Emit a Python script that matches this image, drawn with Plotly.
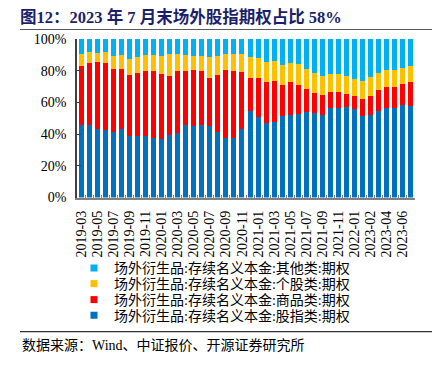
import plotly.graph_objects as go

months = ["2019-03","2019-04","2019-05","2019-06","2019-07","2019-08","2019-09","2019-10","2019-11","2019-12",
          "2020-01","2020-02","2020-03","2020-04","2020-05","2020-06","2020-07","2020-08","2020-09","2020-10",
          "2020-11","2020-12","2021-01","2021-02","2021-03","2021-04","2021-05","2021-06","2021-07","2021-08",
          "2021-09","2021-10","2021-11","2021-12","2022-01","2023-01","2023-02","2023-03","2023-04","2023-05",
          "2023-06","2023-07"]

index_opt = [45.7,45.7,43.4,42.8,41.5,43.2,38.6,38.6,38.6,37.7,37.1,39.6,40.9,45.7,45.3,45.7,45.1,41.3,37.7,37.7,
             43.0,54.6,51.0,46.8,47.4,51.4,52.1,52.9,54.1,53.5,52.2,56.5,56.7,57.3,56.0,51.6,52.1,54.8,56.7,56.7,
             58.4,57.7]
commodity_opt = [37.5,39.2,42.1,42.1,39.4,37.9,38.5,39.9,41.2,41.9,41.0,37.3,38.9,34.3,35.1,33.9,30.3,36.0,42.7,42.1,
                 36.2,21.0,24.4,25.9,26.3,19.6,20.8,18.1,14.6,12.4,12.5,10.1,9.9,8.0,8.0,10.5,11.9,13.0,12.8,13.2,
                 13.4,15.0]
stock_opt = [7.3,6.9,5.9,6.7,8.2,8.6,10.1,10.3,9.9,10.3,11.4,13.6,10.7,9.7,8.9,9.7,13.1,12.0,10.3,10.9,
             11.1,13.3,12.4,13.0,12.4,12.8,12.1,13.0,12.4,12.6,12.0,11.3,11.3,11.4,10.6,11.4,11.8,10.9,11.1,10.7,
             10.1,10.5]
other_opt = [9.5,8.2,8.6,8.4,10.9,10.3,12.8,11.2,10.3,10.1,10.5,9.5,9.5,10.3,10.7,10.7,11.5,10.7,9.3,9.3,
             9.7,11.1,12.2,14.3,13.9,16.2,15.0,16.0,18.9,21.5,23.3,22.1,22.1,23.3,25.4,26.5,24.2,21.3,19.4,19.4,
             18.1,16.8]

series_names = ["场外衍生品:存续名义本金:股指类:期权",
                "场外衍生品:存续名义本金:商品类:期权",
                "场外衍生品:存续名义本金:个股类:期权",
                "场外衍生品:存续名义本金:其他类:期权"]
series_values = [index_opt, commodity_opt, stock_opt, other_opt]
colors = ["#0070C0", "#FF0000", "#FFC000", "#00B0F0"]

tick_text = [m if i % 2 == 0 else "" for i, m in enumerate(months)]
y_ticks = [0, 20, 40, 60, 80, 100]
y_ticktext = [f"{v}%" for v in y_ticks]

# The page has an 8px body margin: the figure starts at screen (8, 8).
# Margins are zero, so paper coordinates cover the whole figure.
OFF = 8
SW, SH = 446, 365
W, H = SW - OFF, SH - OFF

def px(sx):
    return (sx - OFF) / W

def py(sy):
    return 1 - (sy - OFF) / H

PL, PR, PT, PB = 77, 415, 39, 197.5   # plot area in screen pixels

SERIF = "Liberation Serif, Noto Sans CJK SC"
CJK = "Liberation Serif, Noto Sans CJK SC"

fig = go.Figure()
for name, vals, col in zip(series_names, series_values, colors):
    fig.add_trace(go.Bar(x=months, y=vals, name=name, marker=dict(color=col, line=dict(width=0)),
                         showlegend=False))

# legend rows (screen y) for index, commodity, stock, other
legend_ids = ["legend", "legend2", "legend3", "legend4"]
legend_rows = [315.7, 300.0, 284.0, 268.3]
layout_legends = {}
for name, col, lid, yrow in zip(series_names, colors, legend_ids, legend_rows):
    fig.add_trace(go.Scatter(x=[None], y=[None], mode="markers", name=name,
                             marker=dict(symbol="square", size=7, color=col),
                             legend=lid, showlegend=True))
    layout_legends[lid] = dict(x=px(74), y=py(yrow), xanchor="left", yanchor="middle",
                               bgcolor="rgba(0,0,0,0)", itemwidth=30,
                               font=dict(family=CJK, size=14, color="#000000"))

# horizontal rules (screen y) under the title and above the source note
rule_y = [29.5, 331.7]
rule_colors = ["#595959", "#333333"]
rule_x0, rule_x1 = 20, 432

shapes = [dict(type="line", xref="paper", yref="paper", x0=px(rule_x0), x1=px(rule_x1),
               y0=py(yy), y1=py(yy), line=dict(color=cc, width=1.2), layer="above")
          for yy, cc in zip(rule_y, rule_colors)]

fig.update_layout(
    width=W, height=H,
    margin=dict(l=0, r=0, t=0, b=0, pad=0, autoexpand=False),
    barmode="stack", bargap=0.38,
    plot_bgcolor="white", paper_bgcolor="white",
    title=dict(text="<b>图12：2023 年 7 月末场外股指期权占比 58%</b>",
               x=px(20), xanchor="left", xref="paper",
               y=py(17.5), yanchor="middle", yref="paper",
               font=dict(family=SERIF, size=16.5, color="#1B1F6B")),
    xaxis=dict(type="category", tickmode="array", tickvals=months, ticktext=tick_text,
               domain=[px(PL), px(PR)],
               tickangle=-90, tickson="boundaries", ticks="inside", ticklen=3,
               tickcolor="#808080", showline=True, linecolor="#808080", linewidth=1.5,
               showgrid=False, range=[-0.5, len(months) - 0.5],
               tickfont=dict(family=SERIF, size=14, color="#000000"),
               ticklabelstandoff=6),
    yaxis=dict(range=[0, 100], tickmode="array", tickvals=y_ticks, ticktext=y_ticktext,
               domain=[py(PB), py(PT)],
               ticks="inside", ticklen=4, tickcolor="#404040", showline=True,
               linecolor="#404040", linewidth=1.5, showgrid=False, zeroline=False,
               tickfont=dict(family=SERIF, size=14, color="#000000"),
               ticklabelstandoff=6),
    shapes=shapes,
    annotations=[
        dict(text="数据来源：Wind、中证报价、开源证券研究所", xref="paper", yref="paper",
             x=px(20), y=py(345), xanchor="left", yanchor="middle", showarrow=False,
             font=dict(family=CJK, size=14, color="#000000")),
    ],
    **layout_legends,
)

fig.write_html("out.html")
